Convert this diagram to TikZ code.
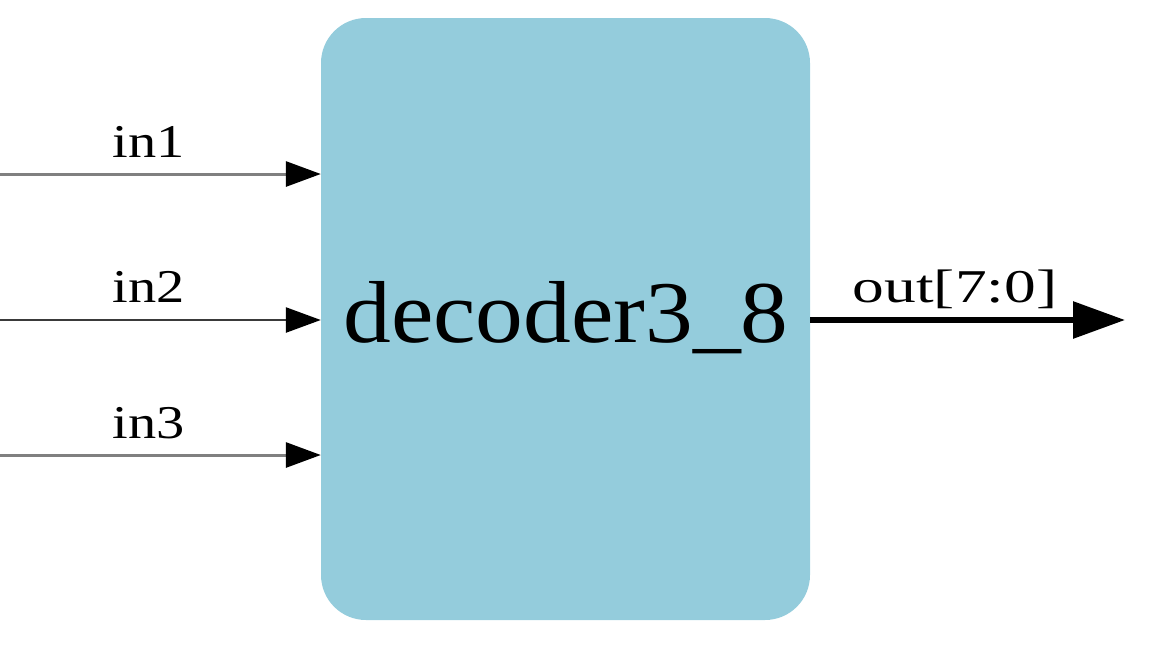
\documentclass[tikz,border=0pt]{standalone}
\usepackage{fontspec}
\setmainfont{Liberation Serif}
\usetikzlibrary{arrows.meta}
\definecolor{boxblue}{HTML}{94CCDC}
\definecolor{wiregray}{HTML}{808080}
\definecolor{wiredark}{HTML}{3A3A3A}
\tikzset{
  block/.style={fill=boxblue, draw=none, rounded corners=45pt, minimum width=489pt, minimum height=602pt, inner sep=0pt},
  inwire/.style={line width=3pt, draw=wiregray, -{Triangle[length=35pt,width=25pt,color=black]}},
  inwireb/.style={line width=2.5pt, draw=wiredark, -{Triangle[length=35pt,width=25pt,color=black]}},
  outwire/.style={line width=6pt, draw=black, -{Triangle[length=52pt,width=36pt]}},
  lbl/.style={inner sep=0pt, anchor=base, text=black},
}
\newcommand{\smlbl}[2]{\scalebox{#1}[1]{\fontsize{47}{47}\selectfont #2}}
\begin{document}
\begin{tikzpicture}[x=1pt,y=-1pt]
\useasboundingbox (0,0) rectangle (1170,646);
\node[block] (box) at (565.5,319) {};
\node[lbl] (name) at (566,342) {\scalebox{1.085}[1]{\fontsize{88}{88}\selectfont decoder3\_8}};
\coordinate (i1) at (0,174);
\coordinate (i2) at (0,320);
\coordinate (i3) at (0,455);
\coordinate (o) at (1125,320);
\draw[inwire] (i1) -- (box.west |- i1);
\draw[inwireb] (i2) -- (box.west |- i2);
\draw[inwire] (i3) -- (box.west |- i3);
\draw[outwire] (box.east |- o) -- (o);
\node[lbl] (l1) at (149,157) {\smlbl{1.2}{in1}};
\node[lbl] (l2) at (149,302) {\smlbl{1.2}{in2}};
\node[lbl] (l3) at (149,438) {\smlbl{1.2}{in3}};
\node[lbl] (lo) at (955,302) {\smlbl{1.35}{out[7:0]}};
\end{tikzpicture}
\end{document}
